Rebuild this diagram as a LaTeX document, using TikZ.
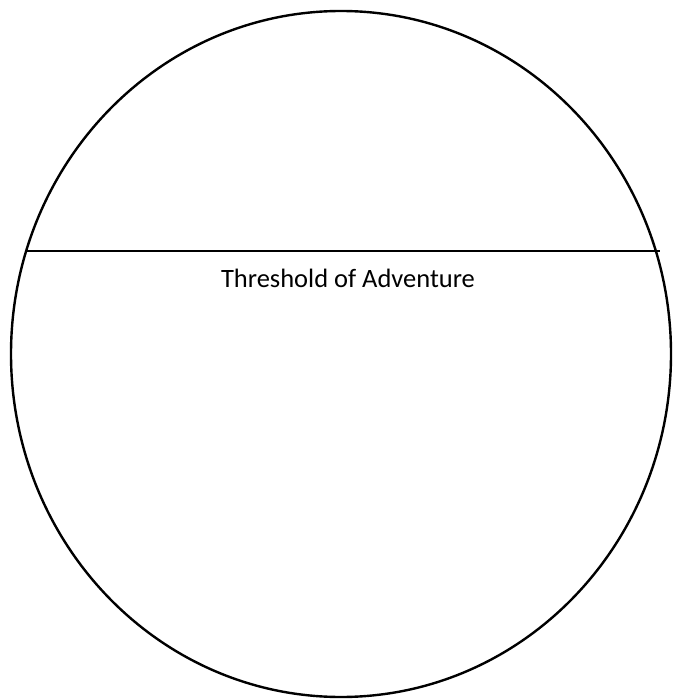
\documentclass[tikz,border=0pt]{standalone}
\usepackage{fontspec}
\setmainfont{Carlito}
\begin{document}
\begin{tikzpicture}[x=1pt,y=-1pt,
  outline/.style={draw=black,line width=2.4pt},
  label/.style={font=\fontsize{26.5}{31}\selectfont,inner sep=0pt,anchor=base}]
\useasboundingbox (0,0) rectangle (673,700);
\draw[outline] (341,354) ellipse [x radius=330, y radius=343];
\coordinate (l) at (26,251);
\coordinate (r) at (660,251);
\draw[outline] (l) -- (r);
\node[label] (t) at (348,287) {Threshold of Adventure};
\end{tikzpicture}
\end{document}
